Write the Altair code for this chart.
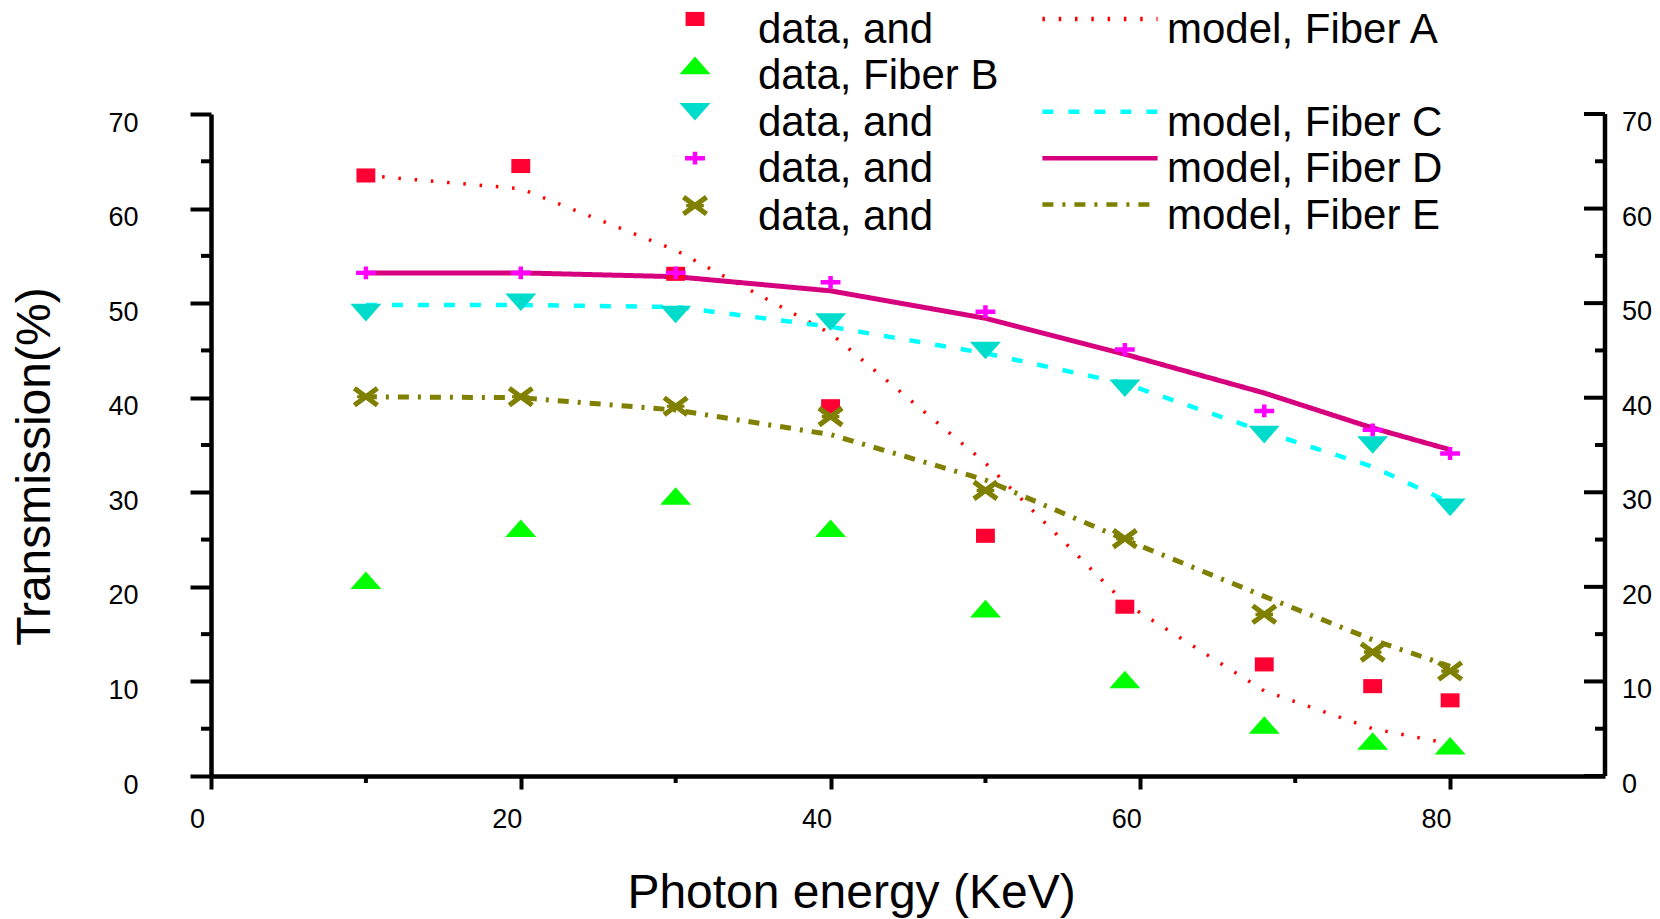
import altair as alt
import pandas as pd

# ---------------- data ----------------
energy = [10, 20, 30, 40, 50, 59, 68, 75, 80]
fibers = ["A", "B", "C", "D", "E"]

data_a = [63.5, 64.5, 53.1, 39.1, 25.4, 17.9, 11.8, 9.5, 8.0]
data_b = [20.7, 26.2, 29.6, 26.2, 17.7, 10.2, 5.4, 3.7, 3.2]
data_c = [49.0, 50.1, 48.8, 48.0, 45.0, 41.0, 36.1, 35.0, 28.4]
data_d = [53.2, 53.2, 53.2, 52.2, 49.1, 45.1, 38.6, 36.6, 34.1]
data_e = [40.1, 40.1, 39.1, 38.0, 30.2, 25.1, 17.1, 13.1, 11.1]

model_fibers = ["A", "C", "D", "E"]
model_a = [63.5, 62.1, 55.6, 46.8, 33.1, 18.3, 9.0, 5.0, 3.4]
model_c = [49.8, 49.8, 49.6, 47.5, 44.7, 41.5, 36.4, 32.7, 28.9]
model_d = [53.2, 53.2, 52.8, 51.3, 48.4, 44.6, 40.5, 36.8, 34.5]
model_e = [40.1, 40.0, 38.7, 36.1, 31.3, 25.0, 19.0, 14.4, 11.6]

x_major = [0, 20, 40, 60, 80]
x_minor = [10, 30, 50, 70]
y_major = [0, 10, 20, 30, 40, 50, 60, 70]
y_minor = [5, 15, 25, 35, 45, 55, 65]

# ---------------- styles ----------------
FONT = "Liberation Sans"
W, H = 1394, 662
data_colors = ["#FF0033", "#00FF00", "#00DCCB", "#FF00FF", "#7F7F00"]
model_colors = ["#FF0000", "transparent", "#00FFFF", "#D6007F", "#7F7F00"]
model_dashes = [[2.5, 13.8], [1, 0], [11, 15], [1, 0], [11, 9, 3, 9]]


def poly(pts, dy=0.0):
    out = []
    for sub in pts:
        s = "M" + "L".join(f"{x:.3f},{y + dy:.3f}" for x, y in sub) + "Z"
        out.append(s)
    return "".join(out)


sq = [[(-0.59, -0.44), (0.59, -0.44), (0.59, 0.44), (-0.59, 0.44)]]
tri_up = [[(0, -0.55), (0.97, 0.55), (-0.97, 0.55)]]
tri_dn = [[(-0.97, -0.55), (0.97, -0.55), (0, 0.55)]]
plus = [[(-0.62, -0.14), (-0.14, -0.14), (-0.14, -0.40), (0.14, -0.40), (0.14, -0.14),
         (0.62, -0.14), (0.62, 0.14), (0.14, 0.14), (0.14, 0.40), (-0.14, 0.40),
         (-0.14, 0.14), (-0.62, 0.14)]]
xmark = [[(-0.815, -0.401), (0.625, 0.659), (0.815, 0.401), (-0.625, -0.659)],
         [(-0.625, 0.659), (0.815, -0.401), (0.625, -0.659), (-0.815, 0.401)],
         [(-0.55, 0.1), (0.55, 0.1), (0.55, -0.1), (-0.55, -0.1)]]
shapes = [sq, tri_up, tri_dn, plus, xmark]
plot_paths = [poly(s) for s in shapes]
LEG_DY = -0.69
legend_paths = [poly(s, LEG_DY) for s in shapes]

# ---------------- tables ----------------
rows = []
for f, vals in zip(fibers, [data_a, data_b, data_c, data_d, data_e]):
    for e, v in zip(energy, vals):
        rows.append({"energy": e, "value": v, "fiber": f})
data_df = pd.DataFrame(rows)

rows = []
for f, vals in zip(model_fibers, [model_a, model_c, model_d, model_e]):
    for e, v in zip(energy, vals):
        rows.append({"energy": e, "value": v, "fiber": f})
model_df = pd.DataFrame(rows)

leg_df = pd.DataFrame({"legd": fibers, "legm": fibers, "energy": [0] * 5, "value": [0] * 5})

x_scale = alt.Scale(domain=[0, 90], nice=False, zero=False)
y_scale = alt.Scale(domain=[0, 70], nice=False, zero=False)

x_axis = alt.Axis(values=x_major, tickSize=13, tickWidth=4, tickColor="black",
                  domainWidth=4.5, domainColor="black", grid=False,
                  labelFont=FONT, labelFontSize=27, labelColor="black",
                  labelPadding=17, labelOffset=-14, labelFlush=False,
                  title="Photon energy (KeV)", titleFont=FONT, titleFontSize=48,
                  titleFontWeight="normal", titleColor="black",
                  titleX=640, titleY=131, titleAlign="center", titleBaseline="alphabetic")

left_axis = alt.Axis(values=y_major, tickSize=21, tickWidth=4, tickColor="black",
                     domainWidth=4.5, domainColor="black", grid=False,
                     labelFont=FONT, labelFontSize=27, labelColor="black",
                     labelPadding=52, labelOffset=9, labelFlush=False,
                     title="Transmission(%)", titleFont=FONT, titleFontSize=48,
                     titleFontWeight="normal", titleColor="black", titleAngle=270,
                     titleX=-162, titleY=352, titleAlign="center", titleBaseline="alphabetic")


def X(field):
    return alt.X(field, scale=x_scale, axis=x_axis)


def Y(field):
    return alt.Y(field, scale=y_scale, axis=left_axis)


data_legend = alt.Legend(title=None, orient="none", legendX=463, legendY=-105,
                         direction="vertical", labelFont=FONT, labelFontSize=42,
                         labelColor="black", labelLimit=600, symbolSize=1024,
                         symbolStrokeWidth=0, labelOffset=42, rowPadding=4.4, padding=0,
                         labelExpr="datum.label == 'B' ? 'data, Fiber B' : 'data, and'")

model_legend = alt.Legend(title=None, orient="none", legendX=868, legendY=-105,
                          direction="vertical", labelFont=FONT, labelFontSize=42,
                          labelColor="black", labelLimit=600, symbolSize=1024,
                          symbolType=f"M-3.6,{LEG_DY}L3.6,{LEG_DY}",
                          symbolStrokeWidth=4.5, labelOffset=46, rowPadding=4.4, padding=0,
                          labelExpr="datum.label == 'B' ? '' : 'model, Fiber ' + datum.label")


def model_lines(keep, width):
    return alt.Chart(model_df).transform_filter(
        alt.FieldOneOfPredicate(field="fiber", oneOf=keep)
    ).mark_line(strokeCap="butt", strokeWidth=width).encode(
        x=X("energy:Q"),
        y=Y("value:Q"),
        stroke=alt.Stroke("fiber:N", scale=alt.Scale(domain=fibers, range=model_colors), legend=None),
        strokeDash=alt.StrokeDash("fiber:N", scale=alt.Scale(domain=fibers, range=model_dashes), legend=None),
    )


lines_a = model_lines(["A"], 3.5)
lines_c = model_lines(["C"], 4.5)
lines_de = model_lines(["D", "E"], 5)

points = alt.Chart(data_df).mark_point(filled=True, size=1024, opacity=1, strokeWidth=0).encode(
    x=X("energy:Q"),
    y=Y("value:Q"),
    fill=alt.Fill("fiber:N", scale=alt.Scale(domain=fibers, range=data_colors), legend=None),
    shape=alt.Shape("fiber:N", scale=alt.Scale(domain=fibers, range=plot_paths), legend=None),
)

leg_points = alt.Chart(leg_df).transform_filter("false").mark_point(
    filled=True, size=1024, opacity=1, strokeWidth=0).encode(
    x=X("energy:Q"),
    y=Y("value:Q"),
    fill=alt.Fill("legd:N", scale=alt.Scale(domain=fibers, range=data_colors), legend=data_legend),
    shape=alt.Shape("legd:N", scale=alt.Scale(domain=fibers, range=legend_paths), legend=data_legend),
)

leg_lines = alt.Chart(leg_df).transform_filter("false").mark_line(strokeCap="butt").encode(
    x=X("energy:Q"),
    y=Y("value:Q"),
    stroke=alt.Stroke("legm:N", scale=alt.Scale(domain=fibers, range=model_colors), legend=model_legend),
    strokeDash=alt.StrokeDash("legm:N", scale=alt.Scale(domain=fibers, range=model_dashes), legend=model_legend),
)

tick_rule = dict(color="black", strokeWidth=4)
left_minor = alt.Chart(pd.DataFrame({"v": y_minor})).mark_rule(**tick_rule).encode(
    y=Y("v:Q"), x=alt.value(-10), x2=alt.value(0))

bottom_minor = alt.Chart(pd.DataFrame({"v": x_minor})).mark_rule(**tick_rule).encode(
    x=X("v:Q"), y=alt.value(H), y2=alt.value(H + 7))

right_major = alt.Chart(pd.DataFrame({"v": y_major})).mark_rule(**tick_rule).encode(
    y=Y("v:Q"), x=alt.value(W - 21), x2=alt.value(W))

right_minor = alt.Chart(pd.DataFrame({"v": y_minor})).mark_rule(**tick_rule).encode(
    y=Y("v:Q"), x=alt.value(W - 10), x2=alt.value(W))

right_domain = alt.Chart(pd.DataFrame({"v": [0], "t": [70]})).mark_rule(color="black", strokeWidth=4.5).encode(
    y=Y("v:Q"), y2="t:Q", x=alt.value(W))

right_labels = alt.Chart(pd.DataFrame({"v": y_major})).mark_text(
    font=FONT, fontSize=27, color="black", align="left", baseline="middle", dy=9).encode(
    y=Y("v:Q"), x=alt.value(W + 17), text="v:Q")

chart = alt.layer(
    lines_a, lines_c, lines_de, points, leg_points, leg_lines,
    left_minor, bottom_minor, right_major, right_minor, right_domain, right_labels,
).resolve_scale(
    fill="independent", shape="independent", stroke="independent", strokeDash="independent"
).properties(
    width=W, height=H,
    padding={"left": 211, "top": 114, "right": 55, "bottom": 143},
    autosize=alt.AutoSizeParams(type="none"),
    background="white",
).configure_view(strokeWidth=0)

chart.save("out.html", embed_options={"renderer": "svg", "actions": False})
